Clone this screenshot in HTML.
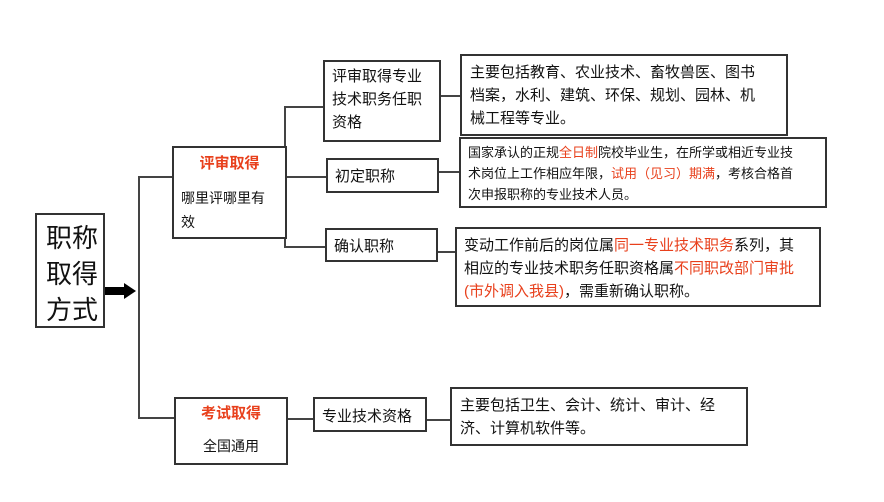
<!DOCTYPE html>
<html><head><meta charset="utf-8"><style>
body{margin:0;width:884px;height:502px;background:#fff;position:relative;overflow:hidden;font-family:"Liberation Sans","Noto Sans CJK SC",sans-serif;color:#111}
.b{position:absolute;border:2px solid #333;box-sizing:border-box;background:#fff}
.l{position:absolute;background:#444}
.r{color:#e8401c}
</style></head><body>
<div class="l" style="left:138px;top:176px;width:2px;height:243px"></div>
<div class="l" style="left:138px;top:176px;width:34px;height:2px"></div>
<div class="l" style="left:138px;top:417px;width:36px;height:2px"></div>
<div class="l" style="left:284px;top:106px;width:2px;height:142px"></div>
<div class="l" style="left:284px;top:106px;width:40px;height:2px"></div>
<div class="l" style="left:284px;top:176px;width:42px;height:2px"></div>
<div class="l" style="left:284px;top:246px;width:42px;height:2px"></div>
<div class="l" style="left:438px;top:95px;width:22px;height:2px"></div>
<div class="l" style="left:436px;top:171px;width:24px;height:2px"></div>
<div class="l" style="left:435px;top:251px;width:21px;height:2px"></div>
<div class="l" style="left:286px;top:418px;width:28px;height:2px"></div>
<div class="l" style="left:425px;top:419px;width:26px;height:2px"></div>
<div class="l" style="left:105px;top:287px;width:20px;height:8px;background:#000"></div>
<div style="position:absolute;left:124px;top:283px;width:0;height:0;border-top:8px solid transparent;border-bottom:8px solid transparent;border-left:12px solid #000"></div>
<div class="b" style="left:35px;top:213px;width:70px;height:115px;font-size:26px;line-height:36px;padding:5px 0 0 9px">职称<br>取得<br>方式</div>
<div class="b" style="left:172px;top:146px;width:115px;height:93px;font-size:14px;padding:4px 0 0 7px;line-height:24px"><div class="r" style="font-weight:bold;text-align:center;font-size:15px;margin-left:-7px;margin-bottom:10px">评审取得</div>哪里评哪里有<br>效</div>
<div class="b" style="left:174px;top:397px;width:114px;height:68px;font-size:14px;text-align:center;line-height:24px;padding-top:3px"><div class="r" style="font-weight:bold;font-size:15px;margin-bottom:8px">考试取得</div>全国通用</div>
<div class="b" style="left:323px;top:60px;width:118px;height:82px;font-size:15px;line-height:23px;padding:3px 0 0 7px">评审取得专业<br>技术职务任职<br>资格</div>
<div class="b" style="left:326px;top:158px;width:113px;height:35px;font-size:15px;padding:5px 0 0 7px">初定职称</div>
<div class="b" style="left:325px;top:228px;width:113px;height:34px;font-size:15px;padding:5px 0 0 7px">确认职称</div>
<div class="b" style="left:313px;top:397px;width:114px;height:35px;font-size:15px;padding:6px 0 0 7px">专业技术资格</div>
<div class="b" style="left:460px;top:54px;width:328px;height:82px;font-size:15px;line-height:23px;padding:5px 0 0 8px">主要包括教育、农业技术、畜牧兽医、图书<br>档案，水利、建筑、环保、规划、园林、机<br>械工程等专业。</div>
<div class="b" style="left:459px;top:137px;width:368px;height:71px;font-size:13px;line-height:21px;padding:3px 0 0 7px">国家承认的正规<span class="r">全日制</span>院校毕业生，在所学或相近专业技<br>术岗位上工作相应年限，<span class="r">试用（见习）期满</span>，考核合格首<br>次申报职称的专业技术人员。</div>
<div class="b" style="left:455px;top:227px;width:366px;height:80px;font-size:15px;line-height:23px;padding:5px 0 0 7px">变动工作前后的岗位属<span class="r">同一专业技术职务</span>系列，其<br>相应的专业技术职务任职资格属<span class="r">不同职改部门审批</span><br><span class="r">(市外调入我县)</span>，需重新确认职称。</div>
<div class="b" style="left:450px;top:387px;width:298px;height:59px;font-size:15px;line-height:23px;padding:5px 0 0 8px">主要包括卫生、会计、统计、审计、经<br>济、计算机软件等。</div>
</body></html>
